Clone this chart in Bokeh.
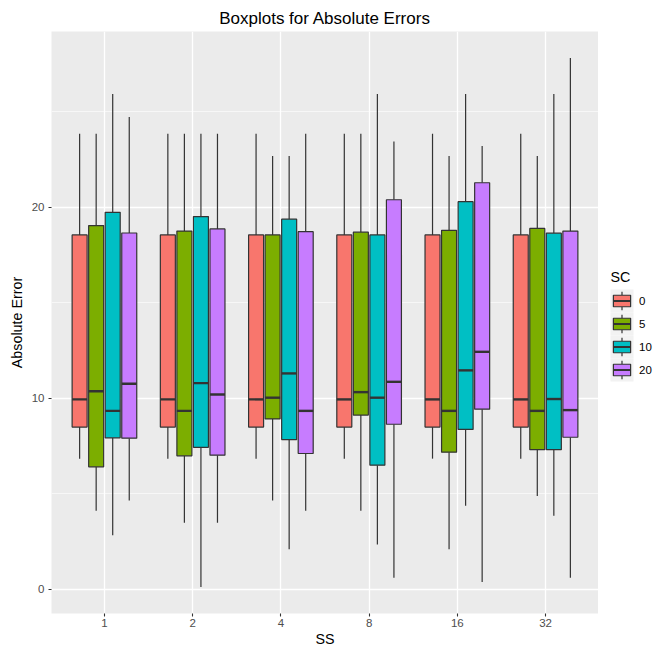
from bokeh.plotting import figure
from bokeh.models import ColumnDataSource, FixedTicker, Range1d
from bokeh.layouts import row
from bokeh.embed import file_html
from bokeh.resources import INLINE
from bokeh.core.properties import value

# ---- data ----
ss_labels = ["1", "2", "4", "8", "16", "32"]
sc_labels = ["0", "5", "10", "20"]
sc_colors = ["#F8766D", "#7CAE00", "#00BFC4", "#C77CFF"]

sc0_low  = [6.84, 6.84, 6.84, 6.84, 6.84, 6.84]
sc0_q1   = [8.49, 8.49, 8.49, 8.49, 8.49, 8.49]
sc0_med  = [9.94, 9.94, 9.94, 9.94, 9.94, 9.94]
sc0_q3   = [18.55, 18.55, 18.55, 18.55, 18.55, 18.55]
sc0_high = [23.84, 23.84, 23.84, 23.84, 23.84, 23.84]

sc5_low  = [4.11, 3.49, 4.65, 4.11, 2.10, 4.88]
sc5_q1   = [6.41, 6.99, 8.92, 9.12, 7.18, 7.31]
sc5_med  = [10.37, 9.34, 10.03, 10.32, 9.34, 9.34]
sc5_q3   = [19.04, 18.75, 18.55, 18.69, 18.79, 18.89]
sc5_high = [23.84, 23.84, 22.68, 23.84, 22.68, 22.68]

sc10_low  = [2.83, 0.12, 2.10, 2.35, 4.37, 3.85]
sc10_q1   = [7.93, 7.43, 7.84, 6.50, 8.37, 7.31]
sc10_med  = [9.34, 10.79, 11.30, 10.03, 11.46, 9.96]
sc10_q3   = [19.73, 19.51, 19.37, 18.55, 20.29, 18.64]
sc10_high = [25.92, 23.84, 22.68, 25.92, 25.92, 25.92]

sc20_low  = [4.65, 3.49, 4.11, 0.60, 0.39, 0.60]
sc20_q1   = [7.91, 7.02, 7.11, 8.64, 9.43, 7.96]
sc20_med  = [10.76, 10.20, 9.34, 10.86, 12.43, 9.38]
sc20_q3   = [18.65, 18.86, 18.72, 20.39, 21.28, 18.75]
sc20_high = [24.72, 23.84, 23.84, 23.44, 23.20, 27.81]

y_major = [0, 10, 20]
y_minor = [5, 15, 25]

# ---- build table ----
series = [
    (sc0_low, sc0_q1, sc0_med, sc0_q3, sc0_high),
    (sc5_low, sc5_q1, sc5_med, sc5_q3, sc5_high),
    (sc10_low, sc10_q1, sc10_med, sc10_q3, sc10_high),
    (sc20_low, sc20_q1, sc20_med, sc20_q3, sc20_high),
]
dodge = 0.75 / len(sc_labels)
box_w = 0.17
cols = {k: [] for k in ["x", "x0", "x1", "low", "q1", "med", "q3", "high", "color"]}
for j, (lo, q1, md, q3, hi) in enumerate(series):
    for g in range(len(ss_labels)):
        x = (g + 1) + (j - (len(sc_labels) - 1) / 2) * dodge
        cols["x"].append(x)
        cols["x0"].append(x - box_w / 2)
        cols["x1"].append(x + box_w / 2)
        cols["low"].append(lo[g])
        cols["q1"].append(q1[g])
        cols["med"].append(md[g])
        cols["q3"].append(q3[g])
        cols["high"].append(hi[g])
        cols["color"].append(sc_colors[j])
src = ColumnDataSource(cols)

all_low = min(min(s[0]) for s in series)
all_high = max(max(s[4]) for s in series)
pad = (all_high - all_low) * 0.05
ymin, ymax = all_low - pad, all_high + pad

FONT = "Liberation Sans"
DARK = "#333333"
H = 650
TOP = 31
BOT = 37

p = figure(width=598, height=H, x_range=Range1d(0.4, len(ss_labels) + 0.6),
           y_range=Range1d(ymin, ymax), output_backend="svg", toolbar_location=None,
           min_border_left=51, min_border_right=0, min_border_top=TOP, min_border_bottom=BOT,
           title="Boxplots for Absolute Errors")
p.background_fill_color = "#EBEBEB"
p.border_fill_color = "white"
p.outline_line_color = None

p.title.align = "center"
p.title.text_font = FONT
p.title.text_font_size = "17px"
p.title.text_font_style = "normal"
p.title.text_color = "#000000"
p.title.standoff = 8

# grids
p.xgrid.ticker = FixedTicker(ticks=list(range(1, len(ss_labels) + 1)))
p.ygrid.ticker = FixedTicker(ticks=y_major, minor_ticks=y_minor)
for gr in (p.xgrid[0], p.ygrid[0]):
    gr.grid_line_color = "white"
    gr.grid_line_width = 1.3
p.ygrid.minor_grid_line_color = "white"
p.ygrid.minor_grid_line_width = 0.6

# axes
p.xaxis.ticker = FixedTicker(ticks=list(range(1, len(ss_labels) + 1)))
p.xaxis.major_label_overrides = {i + 1: s for i, s in enumerate(ss_labels)}
p.yaxis.ticker = FixedTicker(ticks=y_major, minor_ticks=y_minor)
p.xaxis.axis_label = "SS"
p.yaxis.axis_label = "Absolute Error"
for ax in (p.xaxis[0], p.yaxis[0]):
    ax.axis_line_color = None
    ax.major_tick_line_color = DARK
    ax.major_tick_line_width = 1.1
    ax.major_tick_out = 3
    ax.major_tick_in = 0
    ax.minor_tick_line_color = None
    ax.major_label_text_font = FONT
    ax.major_label_text_font_size = "11.5px"
    ax.major_label_text_color = "#4D4D4D"
    ax.axis_label_text_font = FONT
    ax.axis_label_text_font_size = "14.3px"
    ax.axis_label_text_font_style = "normal"
    ax.axis_label_text_color = "#000000"
p.yaxis.major_label_standoff = 3
p.yaxis.axis_label_standoff = 4
p.xaxis.major_label_standoff = 2
p.xaxis.axis_label_standoff = 1

# boxes
p.segment(x0="x", y0="q3", x1="x", y1="high", source=src, line_color=DARK, line_width=1.2)
p.segment(x0="x", y0="low", x1="x", y1="q1", source=src, line_color=DARK, line_width=1.2)
p.vbar(x="x", width=box_w, bottom="q1", top="q3", source=src, fill_color="color",
       line_color=DARK, line_width=1.2)
p.segment(x0="x0", y0="med", x1="x1", y1="med", source=src, line_color=DARK, line_width=2.4)

# ---- legend panel (same borders as main plot, y in pixels from top) ----
LW = 55
lg = figure(width=LW, height=H, x_range=Range1d(0, LW), y_range=Range1d(H - BOT, TOP),
            output_backend="svg", toolbar_location=None, min_border_left=0, min_border_right=0,
            min_border_top=TOP, min_border_bottom=BOT,
            x_axis_location=None, y_axis_location=None)
lg.outline_line_color = None
lg.grid.visible = False
lg.background_fill_color = "white"
lg.border_fill_color = "white"

key = 23
kx = 12
ky0 = 289
n = len(sc_labels)
k_top = [ky0 + key * i for i in range(n)]
ksrc = ColumnDataSource(dict(
    l=[kx] * n, r=[kx + key] * n, t=k_top, b=[v + key for v in k_top],
    cx=[kx + key / 2] * n, cy=[v + key / 2 for v in k_top],
    bl=[kx + key * 0.125] * n, br=[kx + key * 0.875] * n,
    bt=[v + key * 0.25 for v in k_top], bb=[v + key * 0.75 for v in k_top],
    wt=[v + key * 0.1 for v in k_top], wb=[v + key * 0.9 for v in k_top],
    color=sc_colors, label=sc_labels, lx=[kx + key + 5.5] * n))
lg.quad(left="l", right="r", top="t", bottom="b", source=ksrc, fill_color="#F2F2F2", line_color=None)
lg.segment(x0="cx", y0="wt", x1="cx", y1="bt", source=ksrc, line_color=DARK, line_width=1.2)
lg.segment(x0="cx", y0="bb", x1="cx", y1="wb", source=ksrc, line_color=DARK, line_width=1.2)
lg.quad(left="bl", right="br", top="bt", bottom="bb", source=ksrc, fill_color="color",
        line_color=DARK, line_width=1.2)
lg.segment(x0="bl", y0="cy", x1="br", y1="cy", source=ksrc, line_color=DARK, line_width=2.0)
lg.text(x="lx", y="cy", text="label", source=ksrc, text_font=value(FONT),
        text_font_size="11.5px", text_baseline="middle", text_align="left", text_color="#000000")
lg.text(x=[kx], y=[ky0 - 12.5], text=["SC"], text_font=value(FONT), text_font_size="14.3px",
        text_baseline="middle", text_align="left", text_color="#000000")

layout = row(p, lg)
open("out.html", "w").write(file_html(layout, INLINE))
